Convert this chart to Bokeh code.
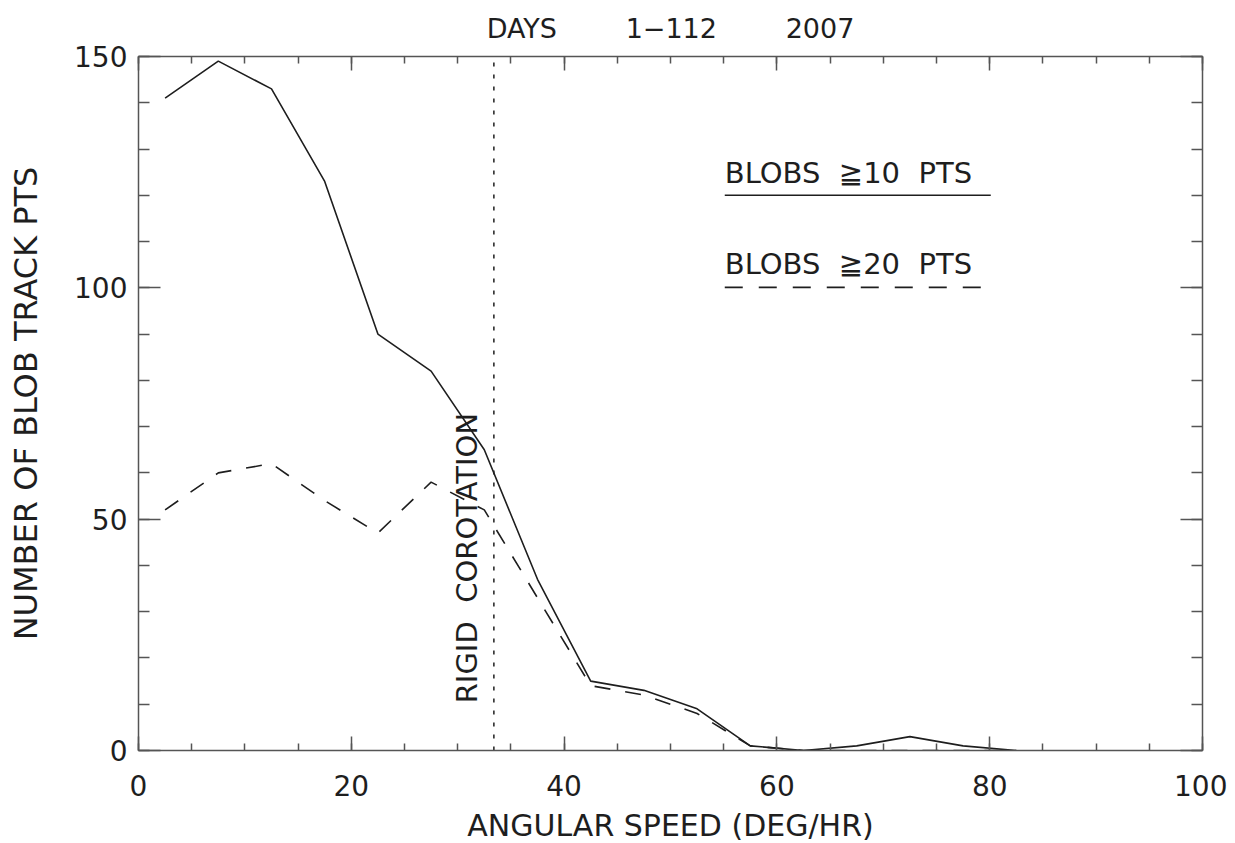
import math
from bokeh.plotting import figure
from bokeh.models import Range1d, LinearAxis, SingleIntervalTicker, Label
from bokeh.embed import file_html
from bokeh.resources import INLINE

# ---------------- data ----------------
speed = [2.5, 7.5, 12.5, 17.5, 22.5, 27.5, 32.5, 37.5, 42.5, 47.5,
         52.5, 57.5, 62.5, 67.5, 72.5, 77.5, 82.5]
blobs_ge10 = [141, 149, 143, 123, 90, 82, 65, 37, 15, 13, 9, 1, 0, 1, 3, 1, 0]
blobs_ge20 = [52, 60, 62, 54, 47, 58, 52, 33, 14, 12, 8, 1, 0, 0, 0, 0, 0]
rigid_corotation = 33.4
y_min, y_max = 0, 150

GAP = "\u00a0" * 8
title_text = "DAYS" + GAP + "1\u2212112" + GAP + "2007"
x_label = "ANGULAR SPEED (DEG/HR)"
y_label = "NUMBER OF BLOB TRACK PTS"
legend_labels = ["BLOBS \u00a0\u226710 \u00a0PTS", "BLOBS \u00a0\u226720 \u00a0PTS"]
corotation_label = "RIGID \u00a0COROTATION"

# ---------------- style ----------------
FONT = "DejaVu Sans"
INK = "#1e1e1e"
AXC = "#555555"

p = figure(frame_width=1064, frame_height=694,
           x_range=Range1d(0, 100), y_range=Range1d(y_min, y_max),
           output_backend="svg", toolbar_location=None,
           min_border_left=138, min_border_right=25,
           min_border_top=56, min_border_bottom=88,
           title=title_text)
p.background_fill_color = "white"
p.border_fill_color = "white"
p.outline_line_color = None
p.xgrid.visible = False
p.ygrid.visible = False

p.title.align = "center"
p.title.vertical_align = "top"
p.title.text_font = FONT
p.title.text_font_style = "normal"
p.title.text_font_size = "27px"
p.title.text_line_height = 1.0
p.title.text_color = INK
p.title.standoff = 21

xt = SingleIntervalTicker(interval=20, num_minor_ticks=4)
yt = SingleIntervalTicker(interval=50, num_minor_ticks=5)


def style_axis(ax, major_len, minor_len, labels=True):
    ax.axis_line_color = AXC
    ax.axis_line_width = 1.5
    ax.major_tick_line_color = AXC
    ax.minor_tick_line_color = AXC
    ax.major_tick_line_width = 1.5
    ax.minor_tick_line_width = 1.5
    ax.major_tick_in = major_len
    ax.major_tick_out = 0
    ax.minor_tick_in = minor_len
    ax.minor_tick_out = 0
    if labels:
        ax.major_label_text_font = FONT
        ax.major_label_text_font_size = "28px"
        ax.major_label_text_color = INK
        ax.axis_label_text_font = FONT
        ax.axis_label_text_font_style = "normal"
        ax.axis_label_text_color = INK
    else:
        ax.major_label_text_font_size = "1px"
        ax.major_label_text_color = None
        ax.major_label_standoff = 0


xa = p.xaxis[0]
xa.ticker = xt
xa.axis_label = x_label
style_axis(xa, 14, 7)
xa.axis_label_text_font_size = "30px"
xa.major_label_standoff = 24
xa.axis_label_standoff = 9

ya = p.yaxis[0]
ya.ticker = yt
ya.axis_label = y_label
style_axis(ya, 22, 11)
ya.axis_label_text_font_size = "32px"
ya.major_label_standoff = 11
ya.axis_label_standoff = 26

top = LinearAxis(ticker=xt)
style_axis(top, 14, 7, labels=False)
p.add_layout(top, "above")

right = LinearAxis(ticker=yt)
style_axis(right, 22, 11, labels=False)
p.add_layout(right, "right")

# ---------------- curves ----------------
p.line(speed, blobs_ge10, line_color=INK, line_width=1.6)
p.line(speed, blobs_ge20, line_color=INK, line_width=1.6, line_dash="16 15")

# rigid corotation marker (dotted vertical line spanning the frame)
p.segment(x0=[rigid_corotation], y0=[y_min], x1=[rigid_corotation], y1=[y_max],
          line_color=INK, line_width=1.5, line_dash="4 8")
p.add_layout(Label(x=30.85, y=10.2, text=corotation_label, angle=math.pi / 2,
                   text_font=FONT, text_font_size="29px", text_color=INK,
                   text_align="left", text_baseline="alphabetic"))

# ---------------- legend (label above sample line) ----------------
leg_x0, leg_x1 = 55.1, 80.1
leg_text_y = [124.9, 105.1]
leg_line_y = [120.0, 100.1]
leg_dash = ["solid", "18 16"]
for lab, ty, ly, dash in zip(legend_labels, leg_text_y, leg_line_y, leg_dash):
    p.add_layout(Label(x=leg_x0, y=ty, text=lab, text_font=FONT,
                       text_font_size="29px", text_color=INK,
                       text_align="left", text_baseline="alphabetic"))
    p.line([leg_x0, leg_x1], [ly, ly], line_color=INK, line_width=1.6,
           line_dash=dash)

open("out.html", "w").write(file_html(p, INLINE))
